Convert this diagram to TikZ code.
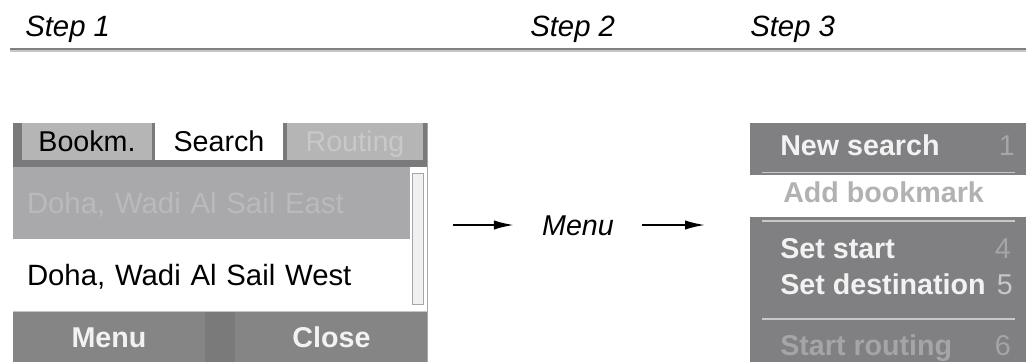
\documentclass[tikz,border=0pt]{standalone}
\usepackage{fontspec}
\setmainfont{Liberation Sans}
\usetikzlibrary{arrows.meta}
\definecolor{tabdark}{RGB}{122, 122, 124}
\definecolor{tablight}{RGB}{181, 181, 182}
\definecolor{rowgray}{RGB}{169, 168, 171}
\definecolor{btngray}{RGB}{133, 133, 134}
\definecolor{gapgray}{RGB}{122, 122, 123}
\definecolor{panelgray}{RGB}{128, 128, 130}
\definecolor{fainttext}{RGB}{165, 165, 167}
\definecolor{palegray}{RGB}{200, 200, 202}
\definecolor{rulegray}{RGB}{128, 128, 128}

\begin{document}
\begin{tikzpicture}[x=0.75pt, y=-0.75pt,
    bigfont/.style={font=\fontsize{22}{24}\selectfont},
    boldfont/.style={font=\fontsize{21.5}{24}\selectfont\bfseries},
    steplabel/.style={anchor=base west, inner sep=0pt, font=\fontsize{22}{24}\selectfont\itshape},
    tab/.style={rectangle, fill=tablight, minimum width=#1, minimum height=27.75pt, inner sep=0pt, text height=15pt, text depth=0pt, font=\fontsize{21.5}{24}\selectfont},
    rowbox/.style={rectangle, minimum width=297.75pt, minimum height=54.75pt, inner xsep=10.5pt, inner ysep=0pt, text width=276.75pt, align=left, text height=15pt, text depth=0pt, bigfont},
    btn/.style={rectangle, fill=btngray, minimum width=#1, minimum height=37.5pt, inner sep=0pt, text height=15pt, text depth=0pt, text=white!95!black, boldfont},
    item/.style={anchor=base west, inner sep=0pt, text=white!95!black, boldfont},
    itemnum/.style={anchor=base east, inner sep=0pt, text=fainttext, font=\fontsize{21.5}{24}\selectfont},
    sep/.style={draw=palegray, line width=1.2pt},
    flow/.style={-{Latex[length=15pt, width=7pt]}, line width=1.4pt}]
    \useasboundingbox (0,0) rectangle (1026,362);

    % Step headings
    \node[steplabel] (step1) at (25,36) {Step 1};
    \node[steplabel] (step2) at (530,36) {Step 2};
    \node[steplabel] (step3) at (750,36) {Step 3};
    \draw[rulegray, line width=1.6pt] (10,49) -- (1026,49);
    \draw[rulegray!45, line width=0.8pt] (10,51) -- (1026,51);

    % Step 1: search screen
    \node[rectangle, fill=tabdark, minimum width=311.25pt, minimum height=33pt, inner sep=0pt] (tabbar) at (220.5,145) {};
    \node[tab=97.5pt] (bookm) at (87,141.5) {Bookm.};
    \node[tab=96pt, fill=white] (search) at (219,141.5) {Search};
    \node[tab=102pt, text=palegray] (routing) at (355,141.5) {Routing};
    \node[rowbox, fill=rowgray, text=rowgray!80!white] (rowEast) at (211.5,203.5) {Doha, Wadi Al Sail East};
    \node[rowbox, fill=white] (rowWest) at (211.5,275) {Doha, Wadi Al Sail West};
    \node[rectangle, fill=white, minimum width=13.5pt, minimum height=108.75pt, inner sep=0pt] (scroll) at (419,239.5) {};
    \node[rectangle, fill=gray!12, draw=gray!70, line width=0.8pt, minimum width=8pt, minimum height=98pt, inner sep=0pt] (thumb) at (418,239) {};
    \node[rectangle, fill=gapgray, minimum width=311.25pt, minimum height=37.5pt, inner sep=0pt] (btnbar) at (220.5,337) {};
    \node[btn=144pt] (menubtn) at (109,337) {Menu};
    \node[btn=144.75pt] (closebtn) at (331.5,337) {Close};
    \draw[gray!45, line width=0.8pt] (13,311.5) -- (428,311.5);
    \draw[gray!70, line width=1pt] (427.5,123) -- (427.5,362);

    % Step 2
    \coordinate (arrowin) at (453,225);
    \node[inner xsep=21pt, inner ysep=0pt, text height=15pt, text depth=0pt, font=\fontsize{21.5}{24}\selectfont\itshape] (menulbl) at (578,225) {Menu};
    \coordinate (arrowout) at (705,225);
    \draw[flow] (arrowin) -- (menulbl);
    \draw[flow] (menulbl) -- (arrowout);

    % Step 3: menu
    \node[rectangle, fill=panelgray, minimum width=207pt, minimum height=179.25pt, inner sep=0pt] (panel) at (888,242.5) {};
    \node[rectangle, fill=white, minimum width=207pt, minimum height=31.5pt, inner sep=0pt] (addrow) at (888,196) {};
    \node[item] (newsearch) at (780,155) {New search};
    \node[itemnum] (num1) at (1015,155) {1};
    \node[item, text=fainttext!85!white] (addbm) at (783,202) {Add bookmark};
    \node[item] (setstart) at (780,258) {Set start};
    \node[itemnum] (num4) at (1011,258) {4};
    \node[item] (setdest) at (780,294) {Set destination};
    \node[itemnum, text=palegray] (num5) at (1013,294) {5};
    \node[item, text=fainttext] (startrt) at (780,355) {Start routing};
    \node[itemnum] (num6) at (1011,355) {6};
    \draw[sep] (762,172.5) -- (1015,172.5);
    \draw[sep] (762,221) -- (1015,221);
    \draw[sep] (762,319) -- (1015,319);
\end{tikzpicture}
\end{document}
